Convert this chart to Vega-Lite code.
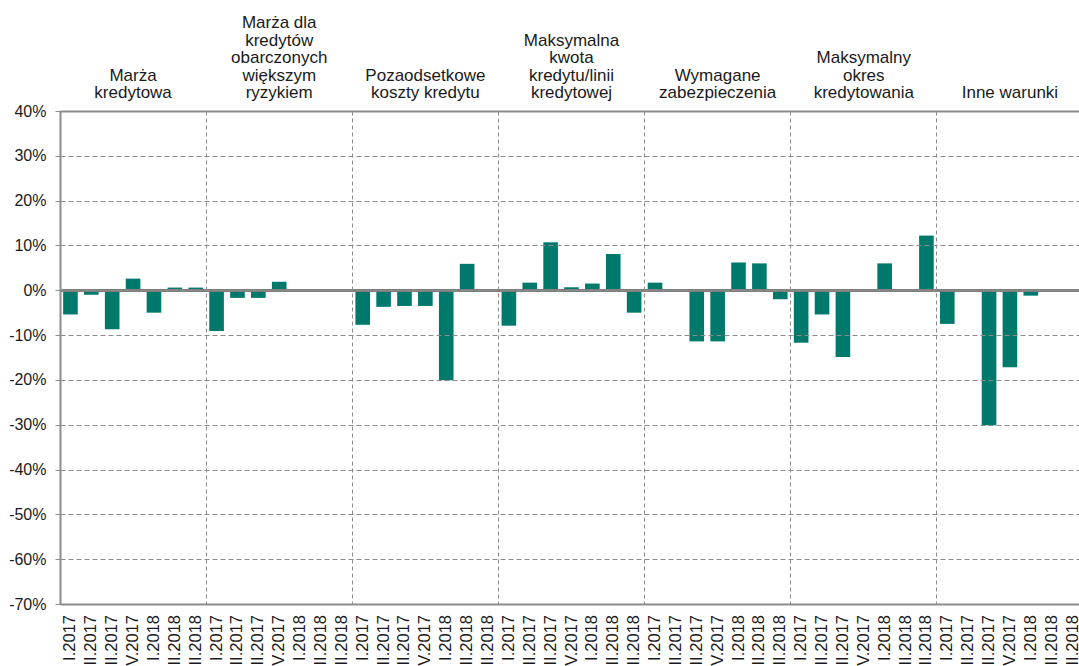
{
  "$schema": "https://vega.github.io/schema/vega-lite/v6.json",
  "autosize": "none",
  "width": 1023,
  "height": 493,
  "padding": {"left": 60, "top": 111, "right": -4, "bottom": 62},
  "background": "#ffffff",
  "config": {
    "view": {"stroke": null},
    "font": "Liberation Sans",
    "axis": {"labelFont": "Liberation Sans"}
  },
  "datasets": {
    "bars": [
      {"group": "Marża\nkredytowa", "quarter": "I.2017", "value": -5.4},
      {"group": "Marża\nkredytowa", "quarter": "II.2017", "value": -1.0},
      {"group": "Marża\nkredytowa", "quarter": "III.2017", "value": -8.7},
      {"group": "Marża\nkredytowa", "quarter": "IV.2017", "value": 2.6},
      {"group": "Marża\nkredytowa", "quarter": "I.2018", "value": -5.0},
      {"group": "Marża\nkredytowa", "quarter": "II.2018", "value": 0.6},
      {"group": "Marża\nkredytowa", "quarter": "III.2018", "value": 0.6},
      {"group": "Marża dla\nkredytów\nobarczonych\nwiększym\nryzykiem", "quarter": "I.2017", "value": -9.1},
      {"group": "Marża dla\nkredytów\nobarczonych\nwiększym\nryzykiem", "quarter": "II.2017", "value": -1.7},
      {"group": "Marża dla\nkredytów\nobarczonych\nwiększym\nryzykiem", "quarter": "III.2017", "value": -1.7},
      {"group": "Marża dla\nkredytów\nobarczonych\nwiększym\nryzykiem", "quarter": "IV.2017", "value": 1.9},
      {"group": "Marża dla\nkredytów\nobarczonych\nwiększym\nryzykiem", "quarter": "I.2018", "value": 0},
      {"group": "Marża dla\nkredytów\nobarczonych\nwiększym\nryzykiem", "quarter": "II.2018", "value": 0},
      {"group": "Marża dla\nkredytów\nobarczonych\nwiększym\nryzykiem", "quarter": "III.2018", "value": 0},
      {"group": "Pozaodsetkowe\nkoszty kredytu", "quarter": "I.2017", "value": -7.7},
      {"group": "Pozaodsetkowe\nkoszty kredytu", "quarter": "II.2017", "value": -3.7},
      {"group": "Pozaodsetkowe\nkoszty kredytu", "quarter": "III.2017", "value": -3.5},
      {"group": "Pozaodsetkowe\nkoszty kredytu", "quarter": "IV.2017", "value": -3.5},
      {"group": "Pozaodsetkowe\nkoszty kredytu", "quarter": "I.2018", "value": -20.1},
      {"group": "Pozaodsetkowe\nkoszty kredytu", "quarter": "II.2018", "value": 5.9},
      {"group": "Pozaodsetkowe\nkoszty kredytu", "quarter": "III.2018", "value": 0},
      {"group": "Maksymalna\nkwota\nkredytu/linii\nkredytowej", "quarter": "I.2017", "value": -7.9},
      {"group": "Maksymalna\nkwota\nkredytu/linii\nkredytowej", "quarter": "II.2017", "value": 1.7},
      {"group": "Maksymalna\nkwota\nkredytu/linii\nkredytowej", "quarter": "III.2017", "value": 10.7},
      {"group": "Maksymalna\nkwota\nkredytu/linii\nkredytowej", "quarter": "IV.2017", "value": 0.7},
      {"group": "Maksymalna\nkwota\nkredytu/linii\nkredytowej", "quarter": "I.2018", "value": 1.5},
      {"group": "Maksymalna\nkwota\nkredytu/linii\nkredytowej", "quarter": "II.2018", "value": 8.1},
      {"group": "Maksymalna\nkwota\nkredytu/linii\nkredytowej", "quarter": "III.2018", "value": -5.0},
      {"group": "Wymagane\nzabezpieczenia", "quarter": "I.2017", "value": 1.7},
      {"group": "Wymagane\nzabezpieczenia", "quarter": "II.2017", "value": 0},
      {"group": "Wymagane\nzabezpieczenia", "quarter": "III.2017", "value": -11.4},
      {"group": "Wymagane\nzabezpieczenia", "quarter": "IV.2017", "value": -11.4},
      {"group": "Wymagane\nzabezpieczenia", "quarter": "I.2018", "value": 6.2},
      {"group": "Wymagane\nzabezpieczenia", "quarter": "II.2018", "value": 6.0},
      {"group": "Wymagane\nzabezpieczenia", "quarter": "III.2018", "value": -2.0},
      {"group": "Maksymalny\nokres\nkredytowania", "quarter": "I.2017", "value": -11.7},
      {"group": "Maksymalny\nokres\nkredytowania", "quarter": "II.2017", "value": -5.4},
      {"group": "Maksymalny\nokres\nkredytowania", "quarter": "III.2017", "value": -14.9},
      {"group": "Maksymalny\nokres\nkredytowania", "quarter": "IV.2017", "value": 0},
      {"group": "Maksymalny\nokres\nkredytowania", "quarter": "I.2018", "value": 6.0},
      {"group": "Maksymalny\nokres\nkredytowania", "quarter": "II.2018", "value": 0},
      {"group": "Maksymalny\nokres\nkredytowania", "quarter": "III.2018", "value": 12.2},
      {"group": "Inne warunki", "quarter": "I.2017", "value": -7.5},
      {"group": "Inne warunki", "quarter": "II.2017", "value": 0},
      {"group": "Inne warunki", "quarter": "III.2017", "value": -30.1},
      {"group": "Inne warunki", "quarter": "IV.2017", "value": -17.2},
      {"group": "Inne warunki", "quarter": "I.2018", "value": -1.2},
      {"group": "Inne warunki", "quarter": "II.2018", "value": 0},
      {"group": "Inne warunki", "quarter": "III.2018", "value": 0}
    ],
    "groups": [
      {"group": "Marża\nkredytowa"},
      {"group": "Marża dla\nkredytów\nobarczonych\nwiększym\nryzykiem"},
      {"group": "Pozaodsetkowe\nkoszty kredytu"},
      {"group": "Maksymalna\nkwota\nkredytu/linii\nkredytowej"},
      {"group": "Wymagane\nzabezpieczenia"},
      {"group": "Maksymalny\nokres\nkredytowania"},
      {"group": "Inne warunki"}
    ]
  },
  "resolve": {"axis": {"x": "independent"}},
  "layer": [
    {
      "data": {"name": "bars"},
      "mark": {"type": "bar", "color": "#00796D"},
      "encoding": {
        "x": {
          "field": "group",
          "type": "nominal",
          "sort": null,
          "scale": {"paddingInner": 0, "paddingOuter": 0},
          "axis": {
            "orient": "top",
            "title": null,
            "labels": false,
            "ticks": false,
            "domain": true,
            "domainColor": "#8c8c8c",
            "domainWidth": 2,
            "grid": false,
            "zindex": 1
          }
        },
        "xOffset": {
          "field": "quarter",
          "type": "nominal",
          "sort": ["I.2017", "II.2017", "III.2017", "IV.2017", "I.2018", "II.2018", "III.2018"],
          "scale": {"paddingInner": 0.3, "paddingOuter": 0.15}
        },
        "y": {
          "field": "value",
          "type": "quantitative",
          "scale": {"domain": [-70, 40], "nice": false},
          "axis": {
            "title": null,
            "values": [-70, -60, -50, -40, -30, -20, -10, 0, 10, 20, 30, 40],
            "labelExpr": "datum.value + '%'",
            "labelFontSize": 16,
            "labelColor": "#1a1a1a",
            "labelPadding": 9,
            "tickSize": 5,
            "tickColor": "#8c8c8c",
            "tickWidth": 1,
            "domainColor": "#8c8c8c",
            "domainWidth": 2,
            "grid": true,
            "gridColor": "#8c8c8c",
            "gridDash": [5, 3],
            "gridWidth": 1,
            "zindex": 1
          }
        }
      }
    },
    {
      "data": {"name": "bars"},
      "mark": {
        "type": "text",
        "angle": 270,
        "align": "right",
        "baseline": "middle",
        "dx": -11,
        "fontSize": 16.5,
        "color": "#1a1a1a"
      },
      "encoding": {
        "x": {
          "field": "group",
          "type": "nominal",
          "sort": null,
          "axis": {
            "orient": "bottom",
            "title": null,
            "labels": false,
            "ticks": false,
            "domain": true,
            "domainColor": "#8c8c8c",
            "domainWidth": 2,
            "grid": true,
            "gridColor": "#8c8c8c",
            "gridDash": [4, 3],
            "gridWidth": 1,
            "bandPosition": 0,
            "zindex": 1
          }
        },
        "xOffset": {
          "field": "quarter",
          "type": "nominal",
          "sort": ["I.2017", "II.2017", "III.2017", "IV.2017", "I.2018", "II.2018", "III.2018"]
        },
        "y": {"datum": -70},
        "text": {"field": "quarter"}
      }
    },
    {
      "data": {"name": "groups"},
      "mark": {
        "type": "text",
        "lineBreak": "\n",
        "fontSize": 17,
        "lineHeight": 17.5,
        "align": "center",
        "baseline": "alphabetic",
        "color": "#1a1a1a",
        "dy": {"expr": "-13 - 17.5 * (length(split(datum.group, '\\n')) - 1)"}
      },
      "encoding": {
        "x": {"field": "group", "type": "nominal", "sort": null, "axis": null},
        "y": {"datum": 40},
        "text": {"field": "group"}
      }
    },
    {
      "data": {"name": "bars"},
      "mark": {"type": "rule", "color": "#808080", "strokeWidth": 2},
      "encoding": {"y": {"datum": 0}}
    }
  ]
}
